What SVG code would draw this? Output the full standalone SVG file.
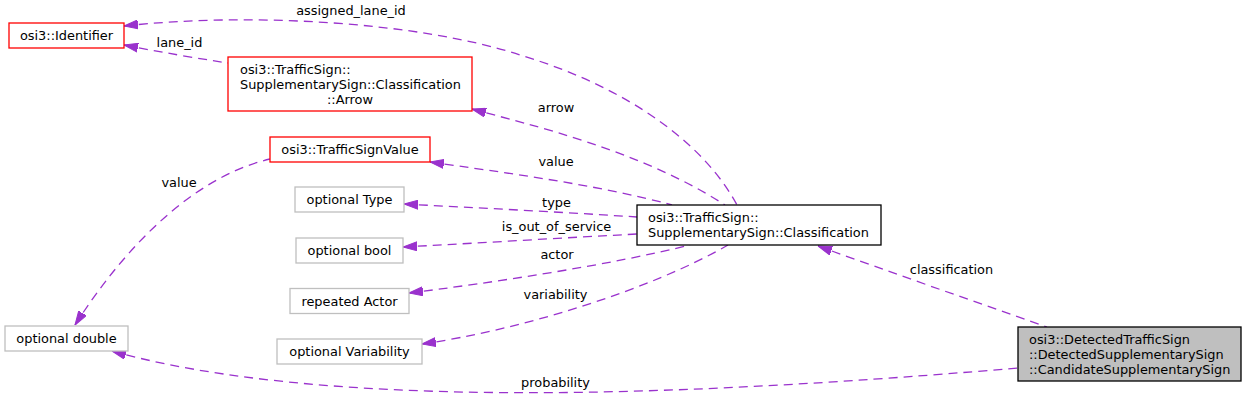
<svg xmlns="http://www.w3.org/2000/svg" width="1247" height="400" viewBox="0 0 1247 400">
<style>
text{font-family:"DejaVu Sans","Liberation Sans",sans-serif;font-size:12.9px;fill:#000}
.m{text-anchor:middle}
.box{fill:#fff;stroke-width:1.3}
.red{stroke:#ff0000}
.grey{stroke:#bfbfbf}
.blk{stroke:#000}
.edge path{fill:none;stroke:#9a32cd;stroke-width:1.3;stroke-dasharray:9,6}
</style>
<defs>
<marker id="ah" markerUnits="userSpaceOnUse" viewBox="0 0 14 10" refX="0" refY="5" markerWidth="14" markerHeight="10" orient="auto">
<path d="M0,5 L14,0.5 L14,9.5 z" fill="#9a32cd" stroke="#9a32cd" stroke-width="1"/>
</marker>
</defs>
<rect width="1247" height="400" fill="#fff"/>
<g id="connectors" class="edge">
<path marker-start="url(#ah)" d="M124,26 C250,12 420,22 520,55 C630,88 705,145 737,205"/>
<path marker-start="url(#ah)" d="M124,45 C160,52 195,58 228,63"/>
<path marker-start="url(#ah)" d="M472,109 C530,125 640,150 725,205"/>
<path marker-start="url(#ah)" d="M430,162 C500,172 600,185 672,205"/>
<path marker-start="url(#ah)" d="M404,204 C480,208 560,212 637,217"/>
<path marker-start="url(#ah)" d="M403,247 C480,243 560,238 637,234"/>
<path marker-start="url(#ah)" d="M409,293 C490,283 610,265 690,245"/>
<path marker-start="url(#ah)" d="M422,344 C520,330 650,290 728,245"/>
<path marker-start="url(#ah)" d="M75,325 C110,270 180,180 270,159"/>
<path marker-start="url(#ah)" d="M112,351 C250,390 450,395 600,392 C750,389 900,378 1018,368"/>
<path marker-start="url(#ah)" d="M818,246 C890,272 970,300 1047,327"/>
<text class="m" x="351" y="15">assigned_lane_id</text>
<text class="m" x="179.5" y="47">lane_id</text>
<text class="m" x="556" y="112">arrow</text>
<text class="m" x="556" y="166">value</text>
<text class="m" x="556.5" y="207">type</text>
<text class="m" x="556.5" y="231">is_out_of_service</text>
<text class="m" x="557" y="259">actor</text>
<text class="m" x="555.5" y="299">variability</text>
<text class="m" x="179" y="187">value</text>
<text class="m" x="555.5" y="387">probability</text>
<text class="m" x="951.5" y="274">classification</text>
</g>
<g id="node-identifier">
<rect class="box red" x="9" y="23" width="115" height="25"/>
<text class="m" x="66.5" y="40">osi3::Identifier</text>
</g>
<g id="node-arrow">
<rect class="box red" x="228" y="57" width="244" height="54"/>
<text x="240" y="73.5">osi3::TrafficSign::</text>
<text x="240" y="88.5">SupplementarySign::Classification</text>
<text class="m" x="350" y="103.5">::Arrow</text>
</g>
<g id="node-trafficsignvalue">
<rect class="box red" x="270" y="137" width="160" height="25"/>
<text class="m" x="350" y="154">osi3::TrafficSignValue</text>
</g>
<g id="node-optional-type">
<rect class="box grey" x="295" y="187" width="109" height="25"/>
<text class="m" x="349.5" y="204">optional Type</text>
</g>
<g id="node-optional-bool">
<rect class="box grey" x="296" y="238" width="107" height="25"/>
<text class="m" x="349.5" y="255">optional bool</text>
</g>
<g id="node-repeated-actor">
<rect class="box grey" x="290" y="288.5" width="119" height="25"/>
<text class="m" x="349.5" y="305.5">repeated Actor</text>
</g>
<g id="node-optional-variability">
<rect class="box grey" x="277" y="339" width="145" height="25"/>
<text class="m" x="349.5" y="356">optional Variability</text>
</g>
<g id="node-optional-double">
<rect class="box grey" x="5" y="326" width="123" height="25"/>
<text class="m" x="66.5" y="343">optional double</text>
</g>
<g id="node-classification">
<rect class="box blk" x="637" y="205" width="244" height="40"/>
<text x="648" y="222">osi3::TrafficSign::</text>
<text x="648" y="237">SupplementarySign::Classification</text>
</g>
<g id="node-candidate">
<rect class="box blk" x="1018" y="327" width="223" height="54" style="fill:#bfbfbf"/>
<text x="1029" y="343.5">osi3::DetectedTrafficSign</text>
<text x="1029" y="358.5">::DetectedSupplementarySign</text>
<text x="1029" y="373.5">::CandidateSupplementarySign</text>
</g>
</svg>
